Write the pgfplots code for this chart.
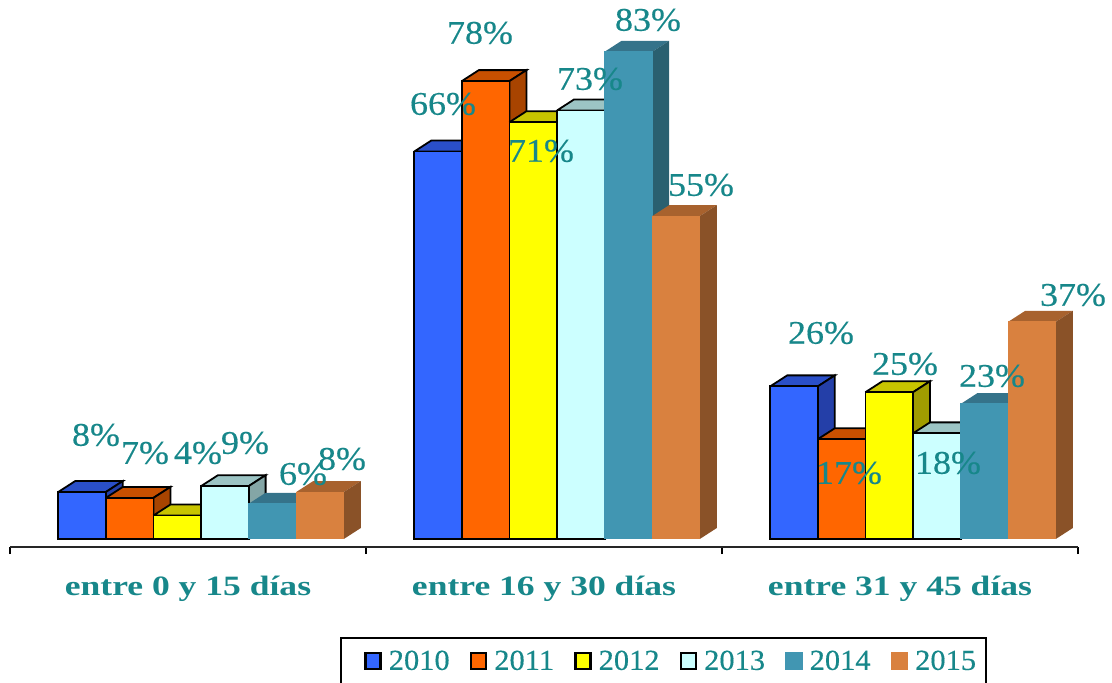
\documentclass[border=0pt]{standalone}
\usepackage{pgfplots}
\pgfplotsset{compat=1.18}
\usepackage{fontspec}
\setmainfont{Liberation Serif}
\newfontfamily\catf[FakeStretch=1.27,UprightFont=* Bold]{Liberation Serif}
\newfontfamily\valf[FakeStretch=1.09,FakeBold=0.4]{Liberation Serif}
\newfontfamily\legf[FakeStretch=1.05,FakeBold=0.4]{Liberation Serif}
\definecolor{lab}{HTML}{17878A}
\definecolor{c0}{HTML}{3366FF}\definecolor{t0}{HTML}{2A4FC8}\definecolor{s0}{HTML}{243FA8}
\definecolor{c1}{HTML}{FF6600}\definecolor{t1}{HTML}{C85000}\definecolor{s1}{HTML}{A84400}
\definecolor{c2}{HTML}{FFFF00}\definecolor{t2}{HTML}{C8C400}\definecolor{s2}{HTML}{A09C00}
\definecolor{c3}{HTML}{CCFFFF}\definecolor{t3}{HTML}{9CC4C4}\definecolor{s3}{HTML}{84A6A6}
\definecolor{c4}{HTML}{4196B2}\definecolor{t4}{HTML}{35738A}\definecolor{s4}{HTML}{2A6070}
\definecolor{c5}{HTML}{D9813F}\definecolor{t5}{HTML}{A8622E}\definecolor{s5}{HTML}{8A5228}
% depth faces of one bar: {top colour}{side colour}{outline}{centre x}{value}
\newcommand{\depth}[5]{%
  \pgfmathsetmacro\xl{#4-23.8}\pgfmathsetmacro\xr{#4+23.8}%
  \pgfmathsetmacro\xla{\xl+17}\pgfmathsetmacro\xra{\xr+17}%
  \pgfmathsetmacro\vb{#5+1.87}\pgfmathsetmacro\zb{1.87}%
  \edef\tmp{\noexpand\addplot[forget plot,fill=#1,#3] coordinates {(\xl,#5)(\xla,\vb)(\xra,\vb)(\xr,#5)(\xl,#5)};
  \noexpand\addplot[forget plot,fill=#2,#3] coordinates {(\xr,0)(\xra,\zb)(\xra,\vb)(\xr,#5)(\xr,0)};}\tmp}
\tikzset{vl/.style={lab,inner sep=0pt,font=\fontsize{33}{33}\valf}}
\newcommand{\lbl}[3]{\pgfmathsetmacro\yy{(539-#2)/5.87}\edef\tmp{\noexpand\node[vl] at (axis cs:#1,\yy) {#3\noexpand\%};}\tmp}
\begin{document}
\begin{tikzpicture}
\path[use as bounding box] (0,0) rectangle (1112pt,683pt);
\begin{axis}[
  at={(10pt,136pt)},anchor=south west,
  scale only axis,width=1068pt,height=547pt,
  xmin=10,xmax=1078,ymin=-1.363,ymax=91.82,clip=false,
  axis x line*=bottom,axis y line=none,
  axis line style={-,line width=1.6pt,black!85},
  xtick={188,544,900},
  xticklabels={entre 0 y 15 días,entre 16 y 30 días,entre 31 y 45 días},
  minor xtick={10,366,722,1078},
  major tick length=0pt,minor tick length=7pt,tick align=outside,
  minor tick style={line width=1.2pt,black},
  xticklabel style={lab,font=\fontsize{28}{28}\catf,yshift=-26pt},
  legend columns=6,
  legend style={at={(354pt,-114pt)},anchor=west,
    /tikz/every even column/.append style={column sep=18pt},
    /tikz/every odd column/.append style={column sep=5pt},
    draw=none,fill=none,text=lab,font=\fontsize{29}{29}\legf,
    inner xsep=0pt,inner ysep=0pt},
  legend image code/.code={\draw[#1,line width=2.6pt] (1pt,-8pt) rectangle (16pt,8pt);},
]
\pgfplotsset{out/.style={draw=black,line width=1.8pt,line join=miter},noout/.style={draw=none}}
% 2010
\depth{t0}{s0}{out}{82}{8}\depth{t0}{s0}{out}{438}{66}\depth{t0}{s0}{out}{794}{26}
\addplot[ybar,bar width=47.6pt,bar shift=0pt,fill=c0,out] coordinates {(82,8)(438,66)(794,26)};
\addlegendentry{2010}
% 2011
\depth{t1}{s1}{out}{129.6}{7}\depth{t1}{s1}{out}{485.6}{78}\depth{t1}{s1}{out}{841.6}{17}
\addplot[ybar,bar width=47.6pt,bar shift=0pt,fill=c1,out] coordinates {(129.6,7)(485.6,78)(841.6,17)};
\addlegendentry{2011}
% 2012
\depth{t2}{s2}{out}{177.2}{4}\depth{t2}{s2}{out}{533.2}{71}\depth{t2}{s2}{out}{889.2}{25}
\addplot[ybar,bar width=47.6pt,bar shift=0pt,fill=c2,out] coordinates {(177.2,4)(533.2,71)(889.2,25)};
\addlegendentry{2012}
% 2013
\depth{t3}{s3}{out}{224.8}{9}\depth{t3}{s3}{out}{580.8}{73}\depth{t3}{s3}{out}{936.8}{18}
\addplot[ybar,bar width=47.6pt,bar shift=0pt,fill=c3,out] coordinates {(224.8,9)(580.8,73)(936.8,18)};
\addlegendentry{2013}
% 2014
\depth{t4}{s4}{noout}{272.4}{6}\depth{t4}{s4}{noout}{628.4}{83}\depth{t4}{s4}{noout}{984.4}{23}
\addplot[ybar,bar width=47.6pt,bar shift=0pt,fill=c4,draw=c4,line width=0pt] coordinates {(272.4,6)(628.4,83)(984.4,23)};
\addlegendentry{2014}
% 2015
\depth{t5}{s5}{noout}{320}{8}\depth{t5}{s5}{noout}{676}{55}\depth{t5}{s5}{noout}{1032}{37}
\addplot[ybar,bar width=47.6pt,bar shift=0pt,fill=c5,draw=c5,line width=0pt] coordinates {(320,8)(676,55)(1032,37)};
\addlegendentry{2015}
\lbl{96}{435}{8}\lbl{145}{453}{7}\lbl{198}{453}{4}\lbl{245}{443}{9}\lbl{303}{474}{6}\lbl{342}{459}{8}
\lbl{443}{104}{66}\lbl{480}{33}{78}\lbl{541}{151}{71}\lbl{590}{79}{73}\lbl{648}{20}{83}\lbl{701}{185}{55}
\lbl{821}{333}{26}\lbl{849}{473}{17}\lbl{905}{364}{25}\lbl{948}{463}{18}\lbl{992}{376}{23}\lbl{1073}{295}{37}
\draw[line width=1.3pt,black] (axis cs:341,-24.53) -- (axis cs:341,-16.87) -- (axis cs:986,-16.87) -- (axis cs:986,-24.53);
\end{axis}
\end{tikzpicture}
\end{document}
